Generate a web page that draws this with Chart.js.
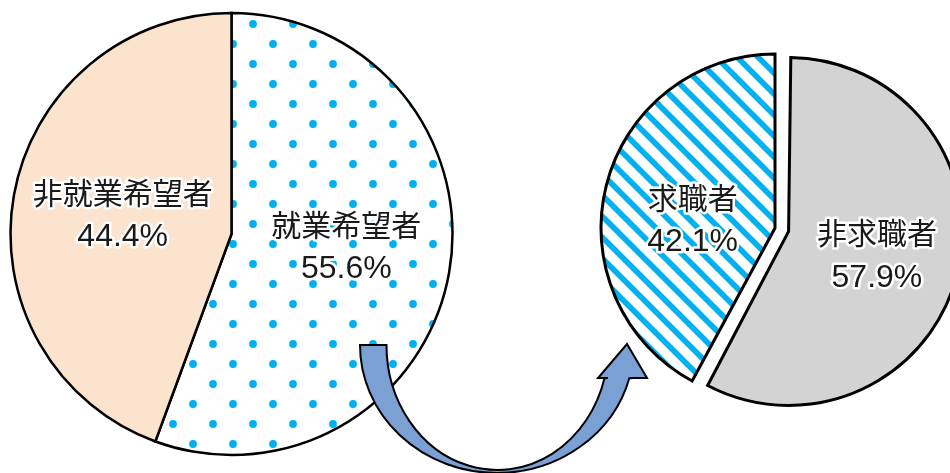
<!DOCTYPE html>
<html>
<head>
<meta charset="utf-8">
<script src="https://cdn.jsdelivr.net/npm/chart.js@4.4.1/dist/chart.umd.min.js"></script>
<style>
html, body { margin: 0; padding: 0; width: 950px; height: 473px; overflow: hidden; background: #fff; }
#boxL { position: absolute; left: 0; top: 0; }
#boxR { position: absolute; left: 575px; top: 0; }
</style>
</head>
<body>
<canvas id="boxL" width="950" height="473"></canvas>
<canvas id="boxR" width="400" height="456"></canvas>
<script>
// 就業希望の有無
const hopeLabels = ['就業希望者', '非就業希望者'];
const hopeValues = [55.6, 44.4];
// 就業希望者のうち求職の有無
const seekLabels = ['非求職者', '求職者'];
const seekValues = [57.9, 42.1];

const blue = '#00b0f0';

// 水玉模様
const makeDots = () => {
    const c = document.createElement('canvas');
    c.width = 40; c.height = 40;
    const g = c.getContext('2d');
    g.fillStyle = '#fff';
    g.fillRect(0, 0, 40, 40);
    g.fillStyle = blue;
    [[13, 24], [33, 4]].forEach(p => {
        g.beginPath();
        g.arc(p[0], p[1], 3.9, 0, Math.PI * 2);
        g.fill();
    });
    return g.createPattern(c, 'repeat');
};

// 斜線模様
const makeStripes = () => {
    const s = 21;
    const c = document.createElement('canvas');
    c.width = s; c.height = s;
    const g = c.getContext('2d');
    g.fillStyle = '#fff';
    g.fillRect(0, 0, s, s);
    g.strokeStyle = blue;
    g.lineWidth = 5.6;
    for (let k = -1; k <= 1; k++) {
        g.beginPath();
        g.moveTo(k * s - s, -s);
        g.lineTo(k * s + 2 * s, 2 * s);
        g.stroke();
    }
    return g.createPattern(c, 'repeat');
};

const sliceText = {
    id: 'sliceText',
    afterDatasetsDraw(chart, args, opts) {
        const ctx = chart.ctx;
        const meta = chart.getDatasetMeta(0);
        const ds = chart.data.datasets[0];
        meta.data.forEach((arc, i) => {
            const mid = (arc.startAngle + arc.endAngle) / 2;
            const off = (ds.offset ? ds.offset[i] : 0) / 4;
            const d = ds.radius * opts.radial + off;
            const x = arc.x + Math.cos(mid) * d + opts.shift[i][0];
            const y = arc.y + Math.sin(mid) * d + opts.shift[i][1];
            const lines = [
                [chart.data.labels[i], '30px "Noto Sans CJK JP"', y - 22],
                [ds.data[i].toFixed(1) + '%', '32px "Liberation Sans", Arial', y + 23]
            ];
            ctx.save();
            ctx.textAlign = 'center';
            ctx.textBaseline = 'middle';
            ctx.lineJoin = 'round';
            lines.forEach(l => {
                ctx.font = l[1];
                ctx.strokeStyle = '#fff';
                ctx.lineWidth = 5;
                ctx.strokeText(l[0], x, l[2]);
                ctx.fillStyle = '#1a1a1a';
                ctx.fillText(l[0], x, l[2]);
            });
            ctx.restore();
        });
    }
};

// 切り出した扇が大きくならないように半径を戻す
const keepRadius = {
    id: 'keepRadius',
    afterDatasetUpdate(chart, args) {
        const ds = chart.data.datasets[0];
        if (!ds.offset) return;
        args.meta.data.forEach((arc, i) => {
            const o = ds.offset[i] / 4;
            if (o && arc.endAngle - arc.startAngle > Math.PI) arc.outerRadius -= o;
        });
    }
};

// 矢印
const bentArrow = {
    id: 'bentArrow',
    afterDraw(chart) {
        const ctx = chart.ctx;
        ctx.save();
        ctx.beginPath();
        ctx.moveTo(360, 345);
        ctx.ellipse(497, 345, 137, 128, 0, Math.PI, 0.262, true);
        ctx.lineTo(634, 378);
        ctx.lineTo(647, 378);
        ctx.lineTo(627, 344);
        ctx.lineTo(598, 378);
        ctx.lineTo(608, 378);
        ctx.ellipse(497.5, 345, 111, 125, 0, 0.267, Math.PI, false);
        ctx.closePath();
        ctx.fillStyle = '#7ba0d4';
        ctx.fill();
        ctx.lineWidth = 2;
        ctx.lineJoin = 'miter';
        ctx.strokeStyle = '#000';
        ctx.stroke();
        ctx.restore();
    }
};

const chartL = new Chart(document.getElementById('boxL'), {
    type: 'pie',
    data: {
        labels: hopeLabels,
        datasets: [{
            data: hopeValues,
            backgroundColor: [makeDots(), '#fbe3cd'],
            borderColor: '#000',
            borderWidth: 2.5,
            borderJoinStyle: 'miter',
            radius: 221
        }]
    },
    options: {
        responsive: false,
        animation: false,
        events: [],
        layout: { padding: { left: 0, top: 0, right: 487, bottom: 5 } },
        plugins: {
            legend: { display: false },
            tooltip: { enabled: false },
            sliceText: { radial: 0.5, shift: [[6, -7], [0, 0]] }
        }
    },
    plugins: [sliceText, bentArrow]
});

const chartR = new Chart(document.getElementById('boxR'), {
    type: 'pie',
    data: {
        labels: seekLabels,
        datasets: [{
            data: seekValues,
            backgroundColor: ['#d3d3d3', makeStripes()],
            borderColor: '#000',
            borderWidth: 3,
            borderJoinStyle: 'miter',
            offset: [56, 0],
            radius: 174
        }]
    },
    options: {
        responsive: false,
        animation: false,
        events: [],
        layout: { padding: 0 },
        plugins: {
            legend: { display: false },
            tooltip: { enabled: false },
            sliceText: { radial: 0.5, shift: [[4, 2], [2, 13]] }
        }
    },
    plugins: [keepRadius, sliceText]
});
</script>
</body>
</html>
